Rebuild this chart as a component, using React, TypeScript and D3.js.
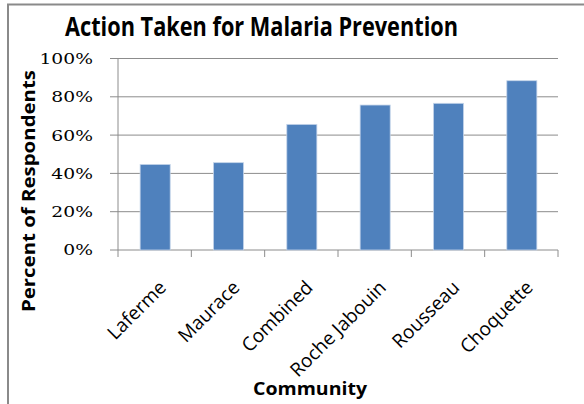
import React from "react";
import * as d3 from "d3";

const communities = ["Laferme", "Maurace", "Combined", "Roche Jabouin", "Rousseau", "Choquette"];
const percentTaken = [44.7, 45.6, 65.6, 75.7, 76.6, 88.4];
const yTicks = [0, 20, 40, 60, 80, 100];

const W = 584;
const H = 404;
const plot = { left: 118, right: 558, top: 58.5, bottom: 250 };

export default function App() {
  const x = d3.scaleBand<string>().domain(communities).range([plot.left, plot.right]).padding(0);
  const y = d3.scaleLinear().domain([0, 100]).range([plot.bottom, plot.top]);
  const bw = x.bandwidth();
  const barW = bw * 0.41;
  const boundaries = [...communities.map((c) => x(c) as number), plot.right];
  const sans = "'Open Sans', 'Liberation Sans', sans-serif";

  return (
    <svg width={W} height={H} style={{ position: "absolute", left: 0, top: 0, background: "#fff" }}>
      {/* frame */}
      <path d={`M8,${H + 2} L8,4.5 L${W + 2},4.5`} fill="none" stroke="#8a8a8a" strokeWidth={2} />

      <text x={261.5} y={36} textAnchor="middle" fontFamily={sans} fontWeight="bold" fontSize={27}
        textLength={393} lengthAdjust="spacingAndGlyphs" fill="#000">
        Action Taken for Malaria Prevention
      </text>

      {/* gridlines */}
      {yTicks.map((t) => (
        <line key={"g" + t} x1={plot.left} x2={plot.right} y1={y(t)} y2={y(t)} stroke="#8c8c8c" strokeWidth={1} />
      ))}
      {/* y axis */}
      <line x1={plot.left} x2={plot.left} y1={plot.top} y2={plot.bottom} stroke="#8c8c8c" strokeWidth={1} />
      {yTicks.map((t) => (
        <g key={"t" + t}>
          <line x1={plot.left - 8} x2={plot.left} y1={y(t)} y2={y(t)} stroke="#8c8c8c" strokeWidth={1} />
          <text transform={`translate(93,${y(t)}) scale(1.25,1)`} dy="0.36em" textAnchor="end"
            fontFamily="'DejaVu Serif', serif" fontSize={15} fill="#000">
            {t}%
          </text>
        </g>
      ))}
      {/* x axis ticks */}
      {boundaries.map((b, i) => (
        <line key={"xt" + i} x1={b} x2={b} y1={plot.bottom} y2={plot.bottom + 7} stroke="#8c8c8c" strokeWidth={1} />
      ))}

      {/* bars */}
      {communities.map((c, i) => (
        <rect key={c} x={(x(c) as number) + (bw - barW) / 2 + 0.5} y={y(percentTaken[i])} width={barW}
          height={plot.bottom - y(percentTaken[i])} fill="#4f81bd" stroke="#c5d5ea" strokeWidth={0.8} />
      ))}

      {/* category labels */}
      {communities.map((c) => {
        const cx = (x(c) as number) + bw / 2;
        return (
          <text key={"l" + c} transform={`translate(${cx + 8},${284}) rotate(-45)`} textAnchor="end" dy="0.35em"
            fontFamily={sans} fontSize={19} fill="#000">
            {c}
          </text>
        );
      })}

      <text transform={`translate(35,191) rotate(-90)`} textAnchor="middle" fontFamily={sans} fontWeight="bold"
        fontSize={17} textLength={242} lengthAdjust="spacingAndGlyphs" fill="#000">
        Percent of Respondents
      </text>
      <text x={310} y={395} textAnchor="middle" fontFamily={sans} fontWeight="bold" fontSize={18}
        textLength={114} lengthAdjust="spacingAndGlyphs" fill="#000">
        Community
      </text>
    </svg>
  );
}
